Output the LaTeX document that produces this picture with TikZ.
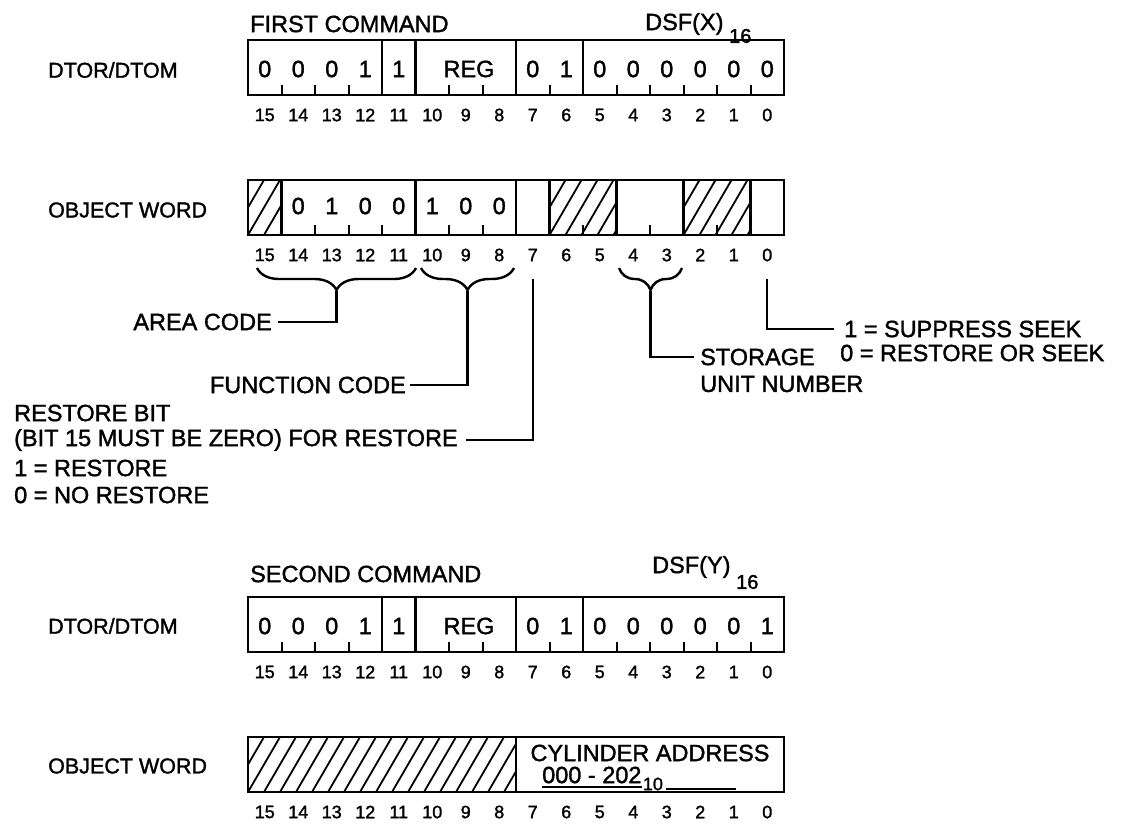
\documentclass[tikz,border=0pt]{standalone}
\usepackage{fontspec}
\setmainfont{Liberation Sans}[FakeBold=1.5]
\usetikzlibrary{decorations.pathreplacing}
\newcommand{\fbig}{\fontsize{23.5}{28}\selectfont}
\newcommand{\fside}{\fontsize{21.5}{26}\selectfont}
\newcommand{\fnum}{\fontsize{18}{20}\selectfont}
\newcommand{\fsub}{\fontsize{20}{22}\selectfont}
% register outline: top y, divider positions (in bits from left), tick positions
\newcommand{\regbox}[3]{%
  \draw[regline] (248,#1) rectangle (784,#1+55);
  \foreach \k in {#2} {\draw[regline] ({248+33.5*\k},#1) -- ({248+33.5*\k},#1+55);}
  \foreach \k in {#3} {\draw[tickline] ({248+33.5*\k},#1+55) -- ({248+33.5*\k},#1+45);}
}
% hatched field: first bit slot, last bit slot, top y
\newcommand{\hatchbox}[3]{%
  \begin{scope}
    \clip ({248+33.5*#1},#3) rectangle ({248+33.5*#2},#3+55);
    \foreach \i in {-3,...,18} {\draw[hatchline] ({248+33.5*#1+16*\i},#3+55) -- ({248+33.5*#1+16*\i+32},#3);}
  \end{scope}
}
% bit numbers below a register: name prefix, centre y
\newcommand{\bitnums}[2]{%
  \foreach \b in {0,...,15} {\node[num] (#1\b) at ({264.75+33.5*(15-\b)},#2) {\b};}
}
\begin{document}
\begin{tikzpicture}[x=1pt,y=-1pt,
  txt/.style={inner sep=0pt, font=\fbig},
  side/.style={inner sep=0pt, font=\fside, anchor=west},
  num/.style={inner sep=0pt, font=\fnum},
  sub/.style={inner sep=0pt, font=\fsub},
  regline/.style={line width=2.6pt, line join=miter},
  tickline/.style={line width=2pt},
  hatchline/.style={line width=1.8pt},
  lead/.style={line width=2.2pt},
  bracel/.style={line width=2.4pt, decorate, decoration={brace, amplitude=22pt, mirror}}]
\useasboundingbox (0,0) rectangle (1122,823);

% ---------------- FIRST COMMAND ----------------
\node[txt, anchor=west] (fc) at (250,24) {FIRST COMMAND};
\node[txt, anchor=west] (dsfx) at (645,24) {DSF(X)};
\node[sub, anchor=west] (dsfxs) at (729,36) {16};
\node[side] (dtor1) at (48,70) {DTOR/DTOM};
\regbox{40}{4,5,8,10}{1,2,3,6,7,9,11,12,13,14,15}
\foreach \b/\v in {15/0,14/0,13/0,12/1,11/1,7/0,6/1,5/0,4/0,3/0,2/0,1/0,0/0}
  {\node[txt] (r1v\b) at ({264.75+33.5*(15-\b)},69) {\v};}
\node[txt] (reg1) at (469,69) {REG};
\bitnums{a}{115}

% ---------------- OBJECT WORD 1 ----------------
\node[side] (obj1) at (48,210) {OBJECT WORD};
\hatchbox{0}{1}{180}
\hatchbox{9}{11}{180}
\hatchbox{13}{15}{180}
\regbox{180}{1,5,8,9,11,13,15}{2,3,4,6,7,10,12,14}
\foreach \b/\v in {14/0,13/1,12/0,11/0,10/1,9/0,8/0}
  {\node[txt] (o1v\b) at ({264.75+33.5*(15-\b)},206) {\v};}
\bitnums{b}{255}

% braces
\draw[bracel] (257,268) -- (416,268);
\draw[bracel] (421,268) -- (514,268);
\draw[bracel] (619,268) -- (682,268);
\coordinate (tipA) at (336.5,291);
\coordinate (tipF) at (467.5,291);
\coordinate (tipS) at (650.5,291);
\coordinate (bit7) at (533.25,279);
\coordinate (bit0) at (767.25,279);

% annotations
\node[txt, anchor=east] (area) at (272,322) {AREA CODE};
\node[txt, anchor=east] (func) at (406,385) {FUNCTION CODE};
\node[txt, anchor=west] (rb1) at (14,413) {RESTORE BIT};
\node[txt, anchor=west] (rb2) at (14,440) {(BIT 15 MUST BE ZERO) FOR RESTORE};
\node[txt, anchor=west] (rb3) at (14,468) {1 = RESTORE};
\node[txt, anchor=west] (rb4) at (14,495) {0 = NO RESTORE};
\node[txt, anchor=west] (stor) at (700,357) {STORAGE};
\node[txt, anchor=west] (unit) at (700,384) {UNIT NUMBER};
\node[txt, anchor=west] (sup) at (844,329) {1 = SUPPRESS SEEK};
\node[txt, anchor=west] (ros) at (840,353) {0 = RESTORE OR SEEK};

\draw[lead] (tipA) |- ([xshift=6pt]area.east);
\draw[lead] (tipF) |- ([xshift=4pt]func.east);
\draw[lead] (bit7) |- ([xshift=8pt]rb2.east);
\draw[lead] (tipS) |- ([xshift=-6pt]stor.west);
\draw[lead] (bit0) |- ([xshift=-10pt]sup.west);

% ---------------- SECOND COMMAND ----------------
\node[txt, anchor=west] (sc) at (250,574) {SECOND COMMAND};
\node[txt, anchor=west] (dsfy) at (652,567) {DSF(Y)};
\node[sub, anchor=west] (dsfys) at (736,582) {16};
\node[side] (dtor2) at (48,626) {DTOR/DTOM};
\regbox{597}{4,5,8,10}{1,2,3,6,7,9,11,12,13,14,15}
\foreach \b/\v in {15/0,14/0,13/0,12/1,11/1,7/0,6/1,5/0,4/0,3/0,2/0,1/0,0/1}
  {\node[txt] (r2v\b) at ({264.75+33.5*(15-\b)},626) {\v};}
\node[txt] (reg2) at (469,626) {REG};
\bitnums{c}{672}

% ---------------- OBJECT WORD 2 ----------------
\node[side] (obj2) at (48,766) {OBJECT WORD};
\hatchbox{0}{8}{737}
\regbox{737}{8}{}
\node[txt] (cyl) at (650,753) {CYLINDER ADDRESS};
\node[txt, anchor=west] (rng) at (542,775) {000 - 202};
\node[num, anchor=west] (rngs) at ([xshift=1pt]rng.east |- 0,784) {10};
\draw[tickline] (rng.west |- 0,787) -- (rng.east |- 0,787);
\coordinate (lnend) at (736,789);
\draw[tickline] ([xshift=3pt]rngs.east |- lnend) -- (lnend);
\bitnums{d}{812}
\end{tikzpicture}
\end{document}
